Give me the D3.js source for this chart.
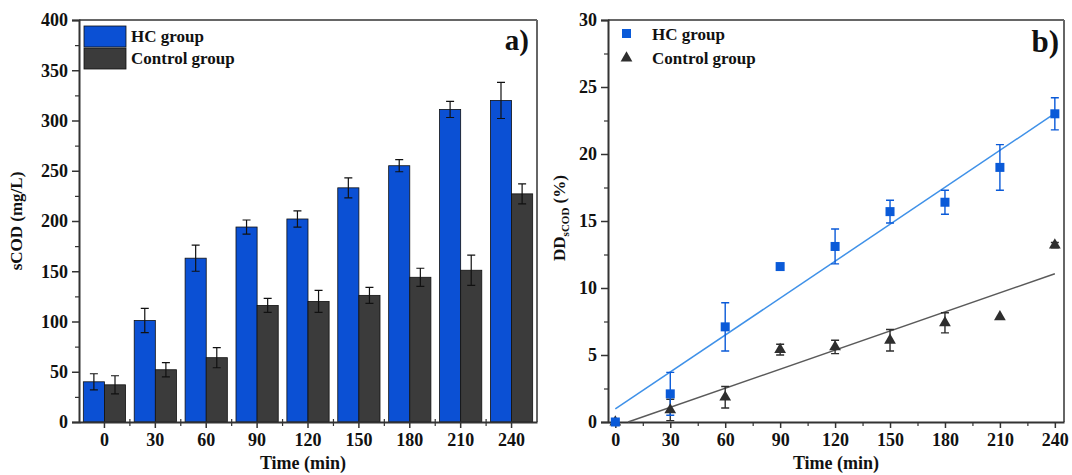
<!DOCTYPE html>
<html lang="en">
<head>
    <meta charset="UTF-8">
    <title>sCOD and DD</title>
    <script src="https://d3js.org/d3.v7.min.js"></script>
    <style>
        body { margin: 0; background: white; }
        text { font-family: "Liberation Serif", "Times New Roman", serif; font-weight: bold; fill: #111; }
    </style>
</head>
<body>
<script>
    // ---------------- data ----------------
    const times = [0, 30, 60, 90, 120, 150, 180, 210, 240];

    // panel a) sCOD (mg/L)
    const hcCod = [40, 101, 163, 194, 202, 233, 255, 311, 320];
    const hcCodErr = [8, 12, 13, 7, 8, 10, 6, 8, 18];
    const ctrlCod = [37, 52, 64, 116, 120, 126, 144, 151, 227];
    const ctrlCodErr = [9, 7, 10, 7, 11, 8, 9, 15, 10];

    // panel b) DD sCOD (%)
    const hcDD = [0, 2.1, 7.1, 11.6, 13.1, 15.7, 16.4, 19.0, 23.0];
    const hcDDErr = [0.15, 1.6, 1.8, 0, 1.3, 0.85, 0.9, 1.7, 1.2];
    const ctrlDD = [0, 0.9, 1.85, 5.4, 5.6, 6.1, 7.4, 7.85, 13.2];
    const ctrlDDErr = [0, 0.8, 0.8, 0.4, 0.5, 0.8, 0.75, 0, 0.2];

    const codTicks = [0, 50, 100, 150, 200, 250, 300, 350, 400];
    const ddTicks = [0, 5, 10, 15, 20, 25, 30];

    const blueBar = "#0b50d4", darkBar = "#3b3b3b";
    const blueMark = "#0a5ad8", blueLine = "#3f91e8";
    const darkMark = "#2e2e2e", darkLine = "#5a5a5a";
    const axisCol = "#333", frameCol = "#666";

    const W = 1072, H = 475;
    const svg = d3.select("body").append("svg").attr("width", W).attr("height", H);

    // least squares fit
    function fit(xs, ys) {
        const mx = d3.mean(xs), my = d3.mean(ys);
        const sxy = d3.sum(xs, (x, i) => (x - mx) * (ys[i] - my));
        const sxx = d3.sum(xs, x => (x - mx) * (x - mx));
        const b = sxy / sxx;
        return { slope: b, intercept: my - b * mx };
    }

    function frame(g, x0, x1, y0, y1) {
        g.append("line").attr("x1", x0).attr("x2", x1).attr("y1", y0).attr("y2", y0)
            .attr("stroke", frameCol).attr("stroke-width", 2);
        g.append("line").attr("x1", x1).attr("x2", x1).attr("y1", y0).attr("y2", y1)
            .attr("stroke", frameCol).attr("stroke-width", 2);
    }

    /*------------------ panel a) ------------------*/
    const a = svg.append("g");
    const ax = d3.scaleBand().domain(times).range([79, 537]).paddingInner(0.17).paddingOuter(0.085);
    const sub = d3.scaleBand().domain(["hc", "ctrl"]).range([0, ax.bandwidth()]);
    const ay = d3.scaleLinear().domain([0, 400]).range([422, 20]);

    frame(a, 79, 537, 20, 422);

    const groups = a.selectAll("g.grp").data(times).join("g")
        .attr("transform", d => `translate(${ax(d)},0)`);

    const series = [
        { key: "hc", vals: hcCod, err: hcCodErr, color: blueBar },
        { key: "ctrl", vals: ctrlCod, err: ctrlCodErr, color: darkBar }
    ];
    series.forEach(s => {
        groups.append("rect")
            .attr("x", sub(s.key))
            .attr("width", sub.bandwidth())
            .attr("y", (d, i) => ay(s.vals[i]))
            .attr("height", (d, i) => ay(0) - ay(s.vals[i]))
            .attr("fill", s.color)
            .attr("stroke", "#111").attr("stroke-width", 0.8);
        const cx = sub(s.key) + sub.bandwidth() / 2;
        groups.append("path")
            .attr("d", (d, i) => {
                const t = ay(s.vals[i] + s.err[i]), b = ay(s.vals[i] - s.err[i]);
                return `M${cx},${t}V${b}M${cx - 4},${t}H${cx + 4}M${cx - 4},${b}H${cx + 4}`;
            })
            .attr("stroke", "#111").attr("stroke-width", 1.2).attr("fill", "none");
    });

    // y axis
    a.append("g").attr("transform", "translate(79,0)")
        .call(d3.axisLeft(ay).tickValues(codTicks).tickSize(7).tickPadding(4))
        .call(g => g.select(".domain").attr("stroke", axisCol).attr("stroke-width", 2))
        .call(g => g.selectAll(".tick line").attr("stroke", axisCol).attr("stroke-width", 1.5))
        .call(g => g.selectAll("text").style("font-size", "18px").attr("fill", "#111"));
    a.append("g").attr("transform", "translate(79,0)")
        .call(d3.axisLeft(ay).tickValues(d3.range(25, 400, 50)).tickSize(4).tickFormat(""))
        .call(g => g.select(".domain").remove())
        .call(g => g.selectAll(".tick line").attr("stroke", axisCol).attr("stroke-width", 1.2));

    // x axis
    a.append("g").attr("transform", "translate(0,422)")
        .call(d3.axisBottom(ax).tickSize(6).tickPadding(5).tickSizeOuter(0))
        .call(g => g.select(".domain").attr("stroke", axisCol).attr("stroke-width", 2))
        .call(g => g.selectAll(".tick line").attr("stroke", axisCol).attr("stroke-width", 1.5))
        .call(g => g.selectAll("text").style("font-size", "18px").attr("fill", "#111"));
    const gap = ax.step() * ax.paddingInner();
    a.selectAll("line.minor").data(times.slice(1)).join("line")
        .attr("x1", d => ax(d) - gap / 2).attr("x2", d => ax(d) - gap / 2)
        .attr("y1", 419).attr("y2", 426)
        .attr("stroke", axisCol).attr("stroke-width", 1.2);

    a.append("text").attr("transform", "translate(22,221) rotate(-90)")
        .attr("text-anchor", "middle").style("font-size", "17px").text("sCOD (mg/L)");
    a.append("text").attr("x", 303).attr("y", 469)
        .attr("text-anchor", "middle").style("font-size", "18px").text("Time (min)");
    a.append("text").attr("x", 529).attr("y", 50)
        .attr("text-anchor", "end").style("font-size", "29px").text("a)");

    // legend a
    const legA = [{ name: "HC group", color: blueBar }, { name: "Control group", color: darkBar }];
    legA.forEach((l, i) => {
        a.append("rect").attr("x", 84).attr("y", 26 + i * 22).attr("width", 42).attr("height", 21)
            .attr("fill", l.color).attr("stroke", "#111").attr("stroke-width", 0.8);
        a.append("text").attr("x", 131).attr("y", 42 + i * 22)
            .style("font-size", "17px").text(l.name);
    });

    /*------------------ panel b) ------------------*/
    const b = svg.append("g");
    const bx = d3.scaleLinear().domain([-4, 245]).range([608, 1064]);
    const by = d3.scaleLinear().domain([0, 30]).range([422, 20]);

    frame(b, 608, 1064, 20, 422);

    b.append("g").attr("transform", "translate(608,0)")
        .call(d3.axisLeft(by).tickValues(ddTicks).tickSize(7).tickPadding(4))
        .call(g => g.select(".domain").attr("stroke", axisCol).attr("stroke-width", 2))
        .call(g => g.selectAll(".tick line").attr("stroke", axisCol).attr("stroke-width", 1.5))
        .call(g => g.selectAll("text").style("font-size", "18px").attr("fill", "#111"));
    b.append("g").attr("transform", "translate(608,0)")
        .call(d3.axisLeft(by).tickValues(d3.range(2.5, 30, 5)).tickSize(4).tickFormat(""))
        .call(g => g.select(".domain").remove())
        .call(g => g.selectAll(".tick line").attr("stroke", axisCol).attr("stroke-width", 1.2));

    b.append("g").attr("transform", "translate(0,422)")
        .call(d3.axisBottom(bx).tickValues(times).tickSize(6).tickPadding(5).tickSizeOuter(0))
        .call(g => g.select(".domain").attr("stroke", axisCol).attr("stroke-width", 2))
        .call(g => g.selectAll(".tick line").attr("stroke", axisCol).attr("stroke-width", 1.5))
        .call(g => g.selectAll("text").style("font-size", "18px").attr("fill", "#111"));
    b.append("g").attr("transform", "translate(0,422)")
        .call(d3.axisBottom(bx).tickValues(d3.range(15, 240, 30)).tickSize(4).tickFormat(""))
        .call(g => g.select(".domain").remove())
        .call(g => g.selectAll(".tick line").attr("stroke", axisCol).attr("stroke-width", 1.2));

    // fit lines
    const fHC = fit(times, hcDD), fCtrl = fit(times, ctrlDD);
    const line = d3.line().x(d => bx(d[0])).y(d => by(d[1]));
    b.append("path")
        .attr("d", line([[0, fHC.intercept], [240, fHC.intercept + 240 * fHC.slope]]))
        .attr("stroke", blueLine).attr("stroke-width", 1.5).attr("fill", "none");
    const x0c = Math.max(0, -fCtrl.intercept / fCtrl.slope);
    b.append("path")
        .attr("d", line([[x0c, fCtrl.intercept + x0c * fCtrl.slope], [240, fCtrl.intercept + 240 * fCtrl.slope]]))
        .attr("stroke", darkLine).attr("stroke-width", 1.5).attr("fill", "none");

    function errBars(vals, errs, color) {
        b.append("g").selectAll("path").data(times.filter((t, i) => errs[i] > 0.05)).join("path")
            .attr("d", d => {
                const i = times.indexOf(d);
                const cx = bx(d), t = by(vals[i] + errs[i]), bb = by(vals[i] - errs[i]);
                return `M${cx},${t}V${bb}M${cx - 4},${t}H${cx + 4}M${cx - 4},${bb}H${cx + 4}`;
            })
            .attr("stroke", color).attr("stroke-width", 1.4).attr("fill", "none");
    }
    errBars(ctrlDD, ctrlDDErr, darkMark);
    errBars(hcDD, hcDDErr, blueMark);

    const tri = d3.symbol().type(d3.symbolTriangle).size(60);
    b.append("g").selectAll("path").data(times).join("path")
        .attr("transform", (d, i) => `translate(${bx(d)},${by(ctrlDD[i])})`)
        .attr("d", tri).attr("fill", darkMark);
    b.append("g").selectAll("rect").data(times).join("rect")
        .attr("x", d => bx(d) - 4.5).attr("y", (d, i) => by(hcDD[i]) - 4.5)
        .attr("width", 9).attr("height", 9).attr("fill", blueMark);

    b.append("text").attr("transform", "translate(565,218) rotate(-90)")
        .attr("text-anchor", "middle").style("font-size", "17px")
        .call(t => {
            t.append("tspan").text("DD");
            t.append("tspan").attr("dy", 4).style("font-size", "11px").text("sCOD");
            t.append("tspan").attr("dy", -4).text(" (%)");
        });
    b.append("text").attr("x", 836).attr("y", 469)
        .attr("text-anchor", "middle").style("font-size", "18px").text("Time (min)");
    b.append("text").attr("x", 1059).attr("y", 52)
        .attr("text-anchor", "end").style("font-size", "31px").text("b)");

    // legend b
    b.append("rect").attr("x", 622).attr("y", 29).attr("width", 9).attr("height", 9).attr("fill", blueMark);
    b.append("path").attr("transform", "translate(626.5,58)").attr("d", tri).attr("fill", darkMark);
    b.append("text").attr("x", 652).attr("y", 40).style("font-size", "17px").text("HC group");
    b.append("text").attr("x", 652).attr("y", 64).style("font-size", "17px").text("Control group");
</script>
</body>
</html>
